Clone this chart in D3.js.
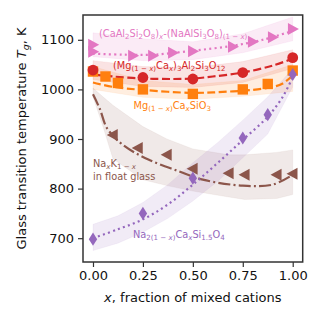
<!DOCTYPE html>
<html><head><meta charset="utf-8">
<script src="https://cdn.jsdelivr.net/npm/d3@7"></script>
<style>body{margin:0;background:#fff}svg{display:block;font-family:"DejaVu Sans",sans-serif}</style>
</head><body><svg id="c" width="322" height="322"></svg>
<script>
// ---- data ----
const xTicks = [0, 0.25, 0.5, 0.75, 1.0];
const yTicks = [700, 800, 900, 1000, 1100];

// plagioclase (pink)
const pinkX = [0, 0, 0.2, 0.3, 0.4, 0.5, 0.7, 0.8, 0.9, 1.0];
const pinkY = [1090, 1076, 1068, 1068, 1074, 1077, 1086, 1096, 1105, 1122];
const pinkFitX = [0, 0.15, 0.3, 0.5, 0.7, 0.85, 1.0];
const pinkFitY = [1072, 1070, 1070, 1078, 1088, 1100, 1118];
const pinkBandX = [0, 0.25, 0.5, 0.75, 1.0];
const pinkBandHi = [1114, 1102, 1096, 1112, 1146];
const pinkBandLo = [1066, 1058, 1060, 1074, 1098];

// garnet (red)
const redX = [0, 0.25, 0.5, 0.75, 1.0];
const redY = [1039, 1024, 1021, 1034, 1064];
const redFitX = [0, 0.1, 0.25, 0.4, 0.5, 0.6, 0.75, 0.9, 1.0];
const redFitY = [1030, 1026, 1022, 1021, 1022, 1026, 1034, 1048, 1062];
const redBandX = [0, 0.25, 0.5, 0.75, 1.0];
const redBandHi = [1058, 1046, 1044, 1056, 1080];
const redBandLo = [1020, 1006, 1004, 1014, 1042];

// pyroxene (orange)
const orangeX = [0, 0.0625, 0.125, 0.25, 0.5, 0.75, 0.875, 1.0];
const orangeY = [1036, 1026, 1013, 1000, 991, 1000, 1011, 1038];
const orangeFitX = [0, 0.1, 0.25, 0.5, 0.65, 0.8, 0.9, 0.95, 1.0];
const orangeFitY = [1014, 1005, 999, 993, 995, 999, 1005, 1012, 1028];
const orangeBandX = [0, 0.25, 0.5, 0.75, 1.0];
const orangeBandHi = [1046, 1018, 1010, 1018, 1050];
const orangeBandLo = [1000, 984, 980, 986, 996];

// float glass (brown)
const brownX = [0.1, 0.225, 0.37, 0.5, 0.68, 0.76, 0.92, 1.0];
const brownY = [908, 882, 868, 840, 831, 828, 828, 830];
const brownFitX = [0, 0.035, 0.07, 0.15, 0.28, 0.43, 0.55, 0.75, 0.9, 1.0];
const brownFitY = [990, 960, 922, 888, 858, 835, 818, 806, 808, 828];
const brownBandX = [0, 0.05, 0.1, 0.25, 0.37, 0.5, 0.68, 0.76, 0.92, 1.0];
const brownBandHi = [1003, 985, 968, 925, 900, 880, 868, 868, 873, 878];
const brownBandLo = [985, 925, 860, 818, 806, 795, 783, 778, 780, 788];

// silicate (purple)
const purpleX = [0, 0.25, 0.5, 0.75, 0.875, 1.0];
const purpleY = [698, 750, 821, 902, 949, 1030];
const purpleFitX = [0, 0.125, 0.25, 0.375, 0.5, 0.625, 0.75, 0.875, 0.95, 1.0];
const purpleFitY = [700, 718, 738, 768, 808, 852, 898, 945, 985, 1025];
const purpleBandX = [0, 0.125, 0.25, 0.375, 0.5, 0.625, 0.75, 0.875, 1.0];
const purpleBandHi = [728, 745, 772, 808, 852, 893, 938, 985, 1042];
const purpleBandLo = [675, 690, 712, 740, 775, 815, 862, 910, 1005];

// ---- drawing ----
const svg = d3.select("#c");
const L = 83, R = 302.7, T = 15, B = 262;
const x = d3.scaleLinear().domain([-0.05, 1.05]).range([L, R]);
const y = d3.scaleLinear().domain([652, 1150]).range([B, T]);

const cols = {pink:"#e377c2", red:"#d62728", orange:"#ff7f0e", brown:"#8c564b", purple:"#9467bd"};

function band(xs, hi, lo, c, op) {
  const d = xs.map((v,i)=>({x:v, hi:hi[i], lo:lo[i]}));
  svg.append("path").datum(d)
    .attr("d", d3.area().x(p=>x(p.x)).y0(p=>y(p.lo)).y1(p=>y(p.hi)).curve(d3.curveLinear))
    .attr("fill", c).attr("fill-opacity", op).attr("stroke", c).attr("stroke-opacity", op*0.6).attr("stroke-width", 0.8);
}
function fit(xs, ys, c, dash) {
  const d = xs.map((v,i)=>[v, ys[i]]);
  svg.append("path").datum(d)
    .attr("d", d3.line().x(p=>x(p[0])).y(p=>y(p[1])).curve(d3.curveCatmullRom))
    .attr("fill","none").attr("stroke", c).attr("stroke-width", 2.2).attr("stroke-dasharray", dash);
}
function markers(xs, ys, c, shape) {
  const g = svg.append("g");
  xs.forEach((v,i)=>{
    const cx = x(v), cy = y(ys[i]);
    let p;
    if (shape==="circle") { g.append("circle").attr("cx",cx).attr("cy",cy).attr("r",5.4).attr("fill",c); return; }
    if (shape==="square") p = [[-5.2,-5.2],[5.2,-5.2],[5.2,5.2],[-5.2,5.2]];
    if (shape==="right") p = [[6.2,0],[-4.8,-6],[-4.8,6]];
    if (shape==="left") p = [[-6.2,0],[4.8,-6],[4.8,6]];
    if (shape==="diamond") p = [[0,-6.6],[4.2,0],[0,6.6],[-4.2,0]];
    g.append("path").attr("d","M"+p.map(q=>[cx+q[0],cy+q[1]].join(",")).join("L")+"Z").attr("fill",c);
  });
}

band(pinkBandX, pinkBandHi, pinkBandLo, cols.pink, 0.15);
band(redBandX, redBandHi, redBandLo, cols.red, 0.13);
band(orangeBandX, orangeBandHi, orangeBandLo, cols.orange, 0.13);
band(brownBandX, brownBandHi, brownBandLo, cols.brown, 0.13);
band(purpleBandX, purpleBandHi, purpleBandLo, cols.purple, 0.13);

fit(pinkFitX, pinkFitY, cols.pink, "2,3.3");
fit(redFitX, redFitY, cols.red, "8,3.5");
fit(orangeFitX, orangeFitY, cols.orange, "8,3.5");
fit(brownFitX, brownFitY, cols.brown, "12,3.2,2,3.2");
fit(purpleFitX, purpleFitY, cols.purple, "2,3.3");

markers(pinkX, pinkY, cols.pink, "right");
markers(orangeX, orangeY, cols.orange, "square");
markers(redX, redY, cols.red, "circle");
markers(brownX, brownY, cols.brown, "left");
markers(purpleX, purpleY, cols.purple, "diamond");

function rich(px, py, parts, c, size) {
  const t = svg.append("text").attr("x", px).attr("y", py).attr("fill", c).attr("font-size", size);
  let sub = false;
  parts.forEach(([s, isSub, it])=>{
    const ts = t.append("tspan").text(s);
    if (isSub && !sub) { ts.attr("dy", size*0.22).attr("font-size", size*0.72); sub = true; }
    else if (isSub) { ts.attr("font-size", size*0.72); }
    else if (!isSub && sub) { ts.attr("dy", -size*0.22); sub = false; }
    if (it) ts.attr("font-style","italic");
  });
  return t;
}
const fs = 9.8;
rich(99, 37, [["(CaAl"],["2",1],["Si"],["2",1],["O"],["8",1],[")"],["x",1,1],["-(NaAlSi"],["3",1],["O"],["8",1],[")"],["(1 − ",1],["x",1,1],[")",1]], cols.pink, fs);
rich(113, 68.5, [["(Mg"],["(1 − ",1],["x",1,1],[")",1],["Ca"],["x",1,1],[")"],["3",1],["Al"],["2",1],["Si"],["3",1],["O"],["12",1]], cols.red, fs);
rich(133.5, 108.5, [["Mg"],["(1 − ",1],["x",1,1],[")",1],["Ca"],["x",1,1],["SiO"],["3",1]], cols.orange, fs);
rich(93, 167, [["Na"],["x",1,1],["K"],["1 − ",1],["x",1,1]], cols.brown, fs);
rich(93, 179.5, [["in float glass"]], cols.brown, fs);
rich(133, 237.5, [["Na"],["2(1 − ",1],["x",1,1],[")",1],["Ca"],["x",1,1],["Si"],["1.5",1],["O"],["4",1]], cols.purple, fs);

// axes
const ax = svg.append("g").attr("transform",`translate(0,${B})`)
  .call(d3.axisBottom(x).tickValues(xTicks).tickFormat(d3.format(".2f")).tickSize(5).tickPadding(4));
const ay = svg.append("g").attr("transform",`translate(${L},0)`)
  .call(d3.axisLeft(y).tickValues(yTicks).tickFormat(d3.format("d")).tickSize(5).tickPadding(4));
[ax, ay].forEach(g=>{
  g.select(".domain").remove();
  g.selectAll("line").attr("stroke","#333").attr("stroke-width",1.2);
  g.selectAll("text").attr("font-size",13).attr("fill","#111").attr("font-family","DejaVu Sans");
});
svg.append("rect").attr("x",L).attr("y",T).attr("width",R-L).attr("height",B-T)
  .attr("fill","none").attr("stroke","#333").attr("stroke-width",1.5);

// axis titles
const xl = svg.append("text").attr("x",(L+R)/2).attr("y",302).attr("text-anchor","middle").attr("font-size",13).attr("fill","#111");
xl.append("tspan").text("x").attr("font-style","italic");
xl.append("tspan").text(", fraction of mixed cations");
const yl = svg.append("text").attr("transform",`translate(26,${(T+B)/2}) rotate(-90)`).attr("text-anchor","middle").attr("font-size",13).attr("fill","#111");
yl.append("tspan").text("Glass transition temperature ");
yl.append("tspan").text("T").attr("font-style","italic");
yl.append("tspan").text("g").attr("font-style","italic").attr("font-size",9.5).attr("dy",3);
yl.append("tspan").text(", K").attr("dy",-3);
</script></body></html>
